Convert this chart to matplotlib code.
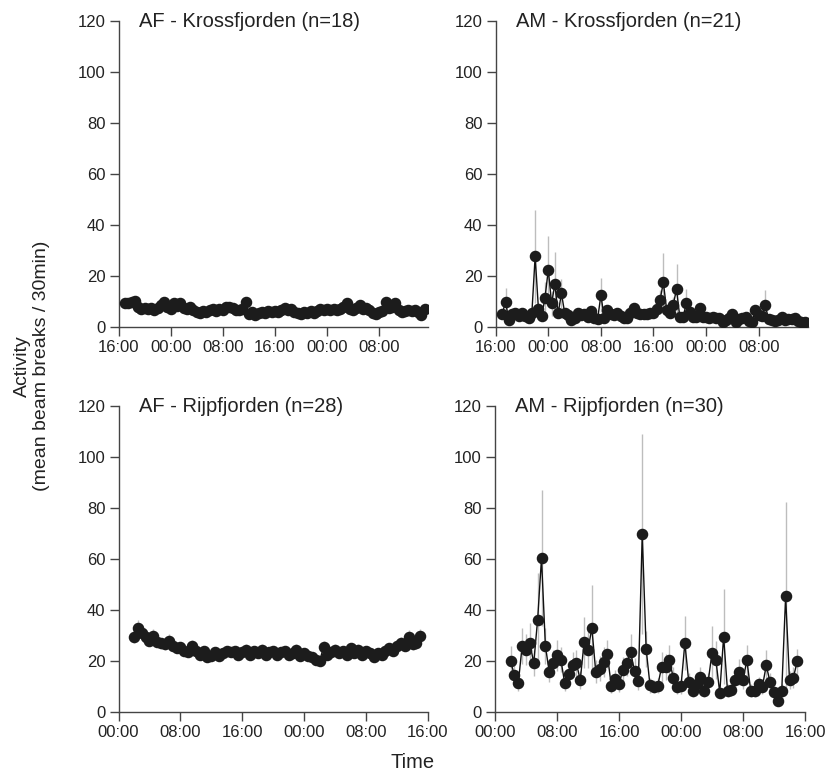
import numpy as np
import matplotlib
matplotlib.use("Agg")
import matplotlib.pyplot as plt

plt.rcParams["font.family"] = ["Liberation Sans", "DejaVu Sans"]

# half-hourly bins, hours since start of x axis
top_hours = np.arange(1, 47.5, 0.5)      # axis starts at 16:00
bottom_hours = np.arange(2, 39.5, 0.5)   # axis starts at 00:00

af_kross = [
    9.3, 9.5, 9.8, 10.2, 8.0, 7.2, 7.5, 7.0, 7.3, 6.8,
    7.4, 8.6, 9.8, 8.0, 7.2, 9.6, 8.4, 9.5, 7.6, 7.0,
    7.8, 6.5, 6.0, 5.6, 6.2, 5.8, 6.6, 6.9, 6.4, 7.0,
    6.5, 7.8, 8.0, 7.4, 6.8, 6.5, 7.0, 10.0, 5.2, 6.0,
    4.8, 5.4, 6.0, 5.5, 6.2, 5.8, 6.4, 6.0, 6.8, 7.4,
    6.6, 7.2, 6.0, 5.4, 5.0, 5.8, 5.5, 6.2, 5.6, 6.4,
    6.9, 6.5, 7.0, 6.6, 7.2, 6.5, 7.0, 7.8, 9.6, 7.0,
    6.6, 7.4, 8.6, 7.2, 7.6, 6.8, 5.6, 5.2, 5.8, 6.4,
    9.8, 7.4, 8.0, 9.6, 6.8, 6.0, 6.4, 6.8, 6.1, 6.6,
    5.8, 4.8, 7.2,
]
af_kross_se = [
    1.0, 0.9, 1.1, 1.2, 0.9, 0.8, 0.9, 0.8, 0.8, 0.7,
    0.9, 1.0, 1.2, 0.9, 0.8, 1.1, 0.9, 1.0, 0.8, 0.8,
    0.9, 0.7, 0.7, 0.6, 0.7, 0.6, 0.7, 0.8, 0.7, 0.8,
    0.7, 0.9, 0.9, 0.8, 0.8, 0.7, 0.8, 1.4, 0.6, 0.7,
    0.6, 0.6, 0.7, 0.6, 0.7, 0.6, 0.7, 0.7, 0.8, 0.8,
    0.7, 0.8, 0.7, 0.6, 0.6, 0.6, 0.6, 0.7, 0.6, 0.7,
    0.8, 0.7, 0.8, 0.7, 0.8, 0.7, 0.8, 0.9, 1.1, 0.8,
    0.7, 0.8, 1.0, 0.8, 0.8, 0.8, 0.6, 0.6, 0.7, 0.7,
    1.2, 0.8, 0.9, 1.1, 0.8, 0.7, 0.7, 0.8, 0.7, 0.7,
    0.6, 0.6, 0.8,
]

am_kross = [
    5.2, 9.9, 2.7, 5.0, 5.4, 4.4, 5.4, 4.4, 3.4, 5.4,
    27.7, 7.1, 4.3, 11.5, 22.5, 9.3, 16.7, 5.4, 13.2, 5.4,
    4.7, 2.7, 3.4, 5.4, 4.7, 5.2, 4.0, 6.3, 3.7, 3.1,
    12.5, 3.7, 6.7, 5.0, 4.7, 5.4, 4.4, 3.7, 3.4, 5.4,
    7.3, 5.4, 5.1, 5.0, 5.0, 5.4, 5.5, 7.1, 10.6, 17.5,
    6.7, 5.4, 8.6, 14.9, 4.0, 4.0, 9.3, 5.8, 4.0, 4.0,
    7.3, 4.0, 4.0, 3.7, 3.9, 3.7, 3.7, 2.1, 2.7, 3.4,
    5.0, 2.1, 3.1, 3.7, 4.0, 2.4, 2.1, 6.7, 4.7, 4.4,
    8.6, 3.1, 2.7, 2.4, 2.7, 3.9, 2.7, 3.1, 3.1, 3.7,
    2.4, 1.8, 1.8,
]
am_kross_se = [
    1.5, 5.3, 1.0, 1.2, 1.2, 1.0, 1.3, 1.0, 0.9, 1.4,
    18.2, 2.5, 1.2, 6.0, 13.3, 5.0, 12.8, 1.5, 5.6, 1.5,
    1.2, 0.8, 0.9, 1.4, 1.2, 1.3, 1.0, 1.8, 1.0, 0.9,
    6.8, 1.0, 2.0, 1.3, 1.2, 1.4, 1.1, 1.0, 0.9, 1.4,
    2.0, 1.4, 1.3, 1.2, 1.2, 1.4, 1.5, 3.0, 4.0, 11.4,
    2.0, 1.4, 3.0, 9.7, 1.1, 1.1, 5.6, 1.6, 1.1, 1.1,
    2.0, 1.1, 1.1, 1.0, 1.1, 1.0, 1.0, 0.7, 0.8, 0.9,
    1.4, 0.7, 0.9, 1.0, 1.1, 0.8, 0.7, 2.0, 1.3, 1.2,
    5.8, 0.9, 0.8, 0.7, 0.8, 1.1, 0.8, 0.9, 0.9, 1.0,
    0.7, 0.6, 0.6,
]

af_rijp = [
    29.5, 33.0, 31.0, 29.5, 28.0, 30.0, 27.5, 27.0, 26.5, 28.0,
    26.0, 25.0, 25.5, 24.0, 23.5, 26.0, 24.0, 22.5, 24.0, 21.5,
    22.0, 23.5, 22.0, 23.0, 24.0, 23.5, 24.0, 22.5, 23.5, 24.5,
    22.5, 24.0, 23.0, 24.5, 22.5, 23.5, 24.0, 22.5, 23.5, 24.0,
    22.5, 23.0, 24.5, 22.0, 23.0, 22.0, 21.5, 20.5, 20.0, 25.5,
    22.5, 23.5, 24.5, 23.0, 24.0, 22.5, 25.0, 23.0, 24.5, 22.5,
    24.0, 23.0, 21.5, 23.0, 22.5, 24.0, 25.0, 24.0, 26.0, 27.0,
    26.0, 29.5, 26.5, 27.0, 30.0,
]
af_rijp_se = [
    2.5, 3.0, 2.6, 2.5, 2.3, 2.6, 2.2, 2.2, 2.1, 2.4,
    2.1, 2.0, 2.1, 1.9, 1.9, 2.2, 1.9, 1.8, 1.9, 1.7,
    1.8, 1.9, 1.8, 1.8, 1.9, 1.9, 1.9, 1.8, 1.9, 2.0,
    1.8, 1.9, 1.8, 2.0, 1.8, 1.9, 1.9, 1.8, 1.9, 1.9,
    1.8, 1.8, 2.0, 1.8, 1.8, 1.8, 1.7, 1.7, 1.6, 2.2,
    1.8, 1.9, 2.0, 1.8, 1.9, 1.8, 2.1, 1.8, 2.0, 1.8,
    1.9, 1.8, 1.7, 1.8, 1.8, 1.9, 2.1, 1.9, 2.2, 2.3,
    2.2, 2.6, 2.2, 2.3, 2.6,
]

am_rijp = [
    20.0, 14.5, 11.2, 25.8, 24.5, 27.0, 19.2, 36.2, 60.3, 26.0,
    15.6, 19.2, 22.2, 20.5, 11.2, 14.8, 18.6, 19.2, 12.5, 27.4,
    24.4, 32.9, 15.7, 17.0, 19.6, 22.6, 10.3, 13.1, 10.8, 16.6,
    19.2, 23.5, 16.1, 12.1, 69.9, 24.8, 10.5, 9.9, 10.3, 17.7,
    17.7, 20.3, 13.5, 9.9, 10.1, 27.1, 11.8, 8.3, 10.9, 13.8,
    8.3, 11.8, 23.2, 20.5, 7.5, 29.6, 8.3, 8.8, 12.5, 15.6,
    12.5, 20.3, 8.3, 8.3, 10.9, 9.9, 18.3, 11.6, 7.9, 4.4,
    8.3, 45.3, 12.5, 13.5, 19.9,
]
am_rijp_se = [
    6.0, 4.0, 3.0, 7.0, 6.0, 8.0, 5.0, 18.5, 26.6, 7.0,
    4.0, 5.0, 6.0, 5.0, 3.0, 4.0, 5.0, 5.0, 3.5, 10.0,
    7.0, 16.8, 4.5, 5.0, 6.0, 5.5, 3.0, 3.5, 3.0, 5.0,
    5.0, 7.0, 5.0, 3.5, 39.3, 7.0, 3.0, 2.5, 3.0, 6.0,
    5.0, 6.0, 4.0, 3.0, 3.0, 10.7, 3.5, 2.5, 3.0, 4.0,
    2.5, 3.5, 10.4, 7.5, 2.0, 18.8, 2.5, 2.5, 3.5, 5.0,
    3.5, 6.0, 2.5, 2.5, 3.0, 3.0, 6.0, 3.5, 2.0, 1.5,
    2.5, 37.0, 3.5, 4.0, 5.0,
]

top_ticks = [0, 8, 16, 24, 32, 40]
top_labels = ["16:00", "00:00", "08:00", "16:00", "00:00", "08:00"]
bottom_ticks = [0, 8, 16, 24, 32, 40]
bottom_labels = ["00:00", "08:00", "16:00", "00:00", "08:00", "16:00"]

panels = [
    ("AF - Krossfjorden (n=18)", top_hours, af_kross, af_kross_se, (0, 47.5), top_ticks, top_labels),
    ("AM - Krossfjorden (n=21)", top_hours, am_kross, am_kross_se, (0, 47.5), top_ticks, top_labels),
    ("AF - Rijpfjorden (n=28)", bottom_hours, af_rijp, af_rijp_se, (0, 40), bottom_ticks, bottom_labels),
    ("AM - Rijpfjorden (n=30)", bottom_hours, am_rijp, am_rijp_se, (0, 40), bottom_ticks, bottom_labels),
]

W, H = 833, 776
rects = [
    (118.5, 428, 21, 327),
    (495.7, 808, 21, 327),
    (118.5, 428, 406, 712),
    (495.0, 805, 406, 712),
]

fig = plt.figure(figsize=(W / 100, H / 100), dpi=100)

for (title, xs, ys, se, xlim, ticks, labels), (x0, x1, y0, y1) in zip(panels, rects):
    ax = fig.add_axes([x0 / W, 1 - y1 / H, (x1 - x0) / W, (y1 - y0) / H])
    ax.errorbar(xs, ys, yerr=se, fmt="none", ecolor="#bdbdbd", elinewidth=1.0,
                capsize=0, zorder=1)
    ax.plot(xs, ys, color="#111111", lw=1.0, zorder=2)
    ax.plot(xs, ys, "o", color="#1c1c1c", ms=7.3, mec="#1c1c1c", zorder=3)

    ax.set_xlim(*xlim)
    ax.set_ylim(0, 120)
    ax.set_yticks(range(0, 121, 20))
    ax.set_xticks(ticks)
    ax.set_xticklabels(labels)

    for side in ("top", "right"):
        ax.spines[side].set_visible(False)
    for side in ("left", "bottom"):
        ax.spines[side].set_color("#444444")
        ax.spines[side].set_linewidth(1.0)
    ax.tick_params(direction="out", length=6.5, width=1.0, color="#444444",
                   labelsize=12, labelcolor="#222222", pad=3)

    ax.text(0.065, 120, title, transform=ax.get_yaxis_transform(),
            ha="left", va="center", fontsize=14.5, color="#222222")

fig.text(32 / W, 1 - 366 / H, "Activity\n(mean beam breaks / 30min)",
         rotation=90, ha="center", va="center", fontsize=14, color="#222222",
         linespacing=1.2)
fig.text(413 / W, 1 - 762 / H, "Time", ha="center", va="center",
         fontsize=14.5, color="#222222")

fig.savefig("out.png", dpi=100)
